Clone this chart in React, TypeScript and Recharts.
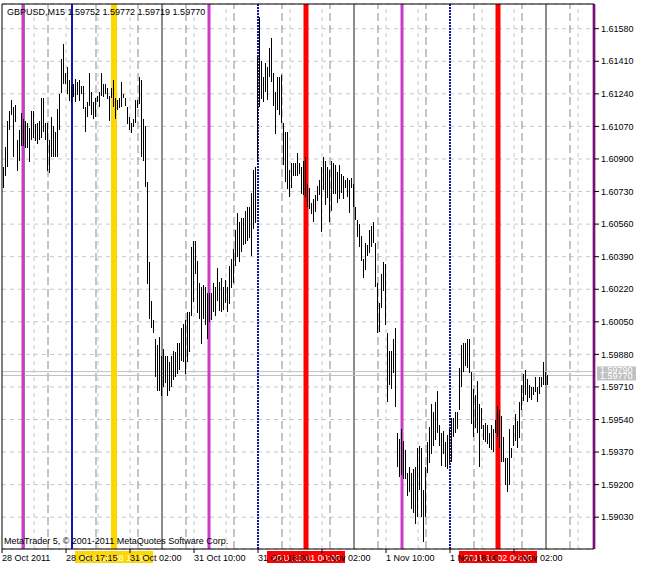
import React from 'react';
import { ComposedChart, Bar, XAxis, YAxis, CartesianGrid, ReferenceLine } from 'recharts';

const FONT = '"Liberation Sans", Arial, sans-serif';

// M15 bars (high / low per bar)
const HIGHS = [
  1.6086, 1.6096, 1.6110, 1.6115, 1.6121, 1.6117, 1.6118, 1.6100, 1.6105, 1.6114,
  1.6111, 1.6110, 1.6109, 1.6106, 1.6115, 1.6115, 1.6108, 1.6109, 1.6110, 1.6122,
  1.6122, 1.6109, 1.6109, 1.6100, 1.6112, 1.6107, 1.6104, 1.6116, 1.6124, 1.6142,
  1.6150, 1.6135, 1.6138, 1.6131, 1.6128, 1.6129, 1.6132, 1.6130, 1.6131, 1.6128,
  1.6128, 1.6117, 1.6120, 1.6135, 1.6125, 1.6120, 1.6122, 1.6123, 1.6125, 1.6135,
  1.6129, 1.6129, 1.6127, 1.6123, 1.6127, 1.6131, 1.6122, 1.6121, 1.6122, 1.6130,
  1.6124, 1.6122, 1.6117, 1.6112, 1.6109, 1.6111, 1.6121, 1.6121, 1.6133, 1.6131,
  1.6111, 1.6107, 1.6078, 1.6036, 1.6016, 1.6006, 1.5996, 1.5993, 1.5997, 1.5987,
  1.5991, 1.5987, 1.5987, 1.5984, 1.5987, 1.5990, 1.5989, 1.5994, 1.5994, 1.6002,
  1.6004, 1.6006, 1.6010, 1.6010, 1.6044, 1.6047, 1.6047, 1.6037, 1.6025, 1.6023,
  1.6024, 1.6023, 1.6020, 1.6020, 1.6020, 1.6025, 1.6023, 1.6033, 1.6026, 1.6028,
  1.6023, 1.6027, 1.6023, 1.6034, 1.6038, 1.6043, 1.6053, 1.6062, 1.6057, 1.6059,
  1.6059, 1.6063, 1.6065, 1.6065, 1.6072, 1.6084, 1.6086, 1.6143, 1.6164, 1.6141,
  1.6133, 1.6140, 1.6138, 1.6148, 1.6153, 1.6135, 1.6125, 1.6133, 1.6133, 1.6134,
  1.6109, 1.6104, 1.6104, 1.6084, 1.6088, 1.6088, 1.6088, 1.6093, 1.6088, 1.6086,
  1.6089, 1.6091, 1.6077, 1.6075, 1.6067, 1.6069, 1.6071, 1.6076, 1.6079, 1.6086,
  1.6091, 1.6089, 1.6086, 1.6084, 1.6089, 1.6088, 1.6087, 1.6083, 1.6087, 1.6082,
  1.6081, 1.6079, 1.6080, 1.6079, 1.6080, 1.6077, 1.6065, 1.6058, 1.6056, 1.6050,
  1.6038, 1.6046, 1.6045, 1.6053, 1.6055, 1.6057, 1.6046, 1.6025, 1.6015, 1.6030,
  1.6036, 1.6035, 1.5999, 1.5990, 1.5990, 1.5996, 1.6002, 1.5947, 1.5944, 1.5949,
  1.5943, 1.5938, 1.5926, 1.5929, 1.5926, 1.5928, 1.5929, 1.5939, 1.5940, 1.5939,
  1.5917, 1.5929, 1.5942, 1.5950, 1.5962, 1.5958, 1.5963, 1.5969, 1.5951, 1.5947,
  1.5948, 1.5942, 1.5946, 1.5949, 1.5955, 1.5955, 1.5958, 1.5958, 1.5981, 1.5993,
  1.5994, 1.5994, 1.5996, 1.5996, 1.5979, 1.5970, 1.5967, 1.5974, 1.5962, 1.5960,
  1.5951, 1.5952, 1.5951, 1.5947, 1.5951, 1.5949, 1.5954, 1.5961, 1.5959, 1.5956,
  1.5945, 1.5934, 1.5934, 1.5949, 1.5939, 1.5951, 1.5957, 1.5953, 1.5963, 1.5972,
  1.5978, 1.5980, 1.5975, 1.5972, 1.5971, 1.5971, 1.5976, 1.5971, 1.5976, 1.5976,
  1.5984, 1.5979, 1.5977,
];

const LOWS = [
  1.6075, 1.6081, 1.6086, 1.6105, 1.6113, 1.6091, 1.6109, 1.6084, 1.6089, 1.6097,
  1.6097, 1.6096, 1.6096, 1.6088, 1.6100, 1.6101, 1.6099, 1.6098, 1.6100, 1.6101,
  1.6104, 1.6100, 1.6084, 1.6083, 1.6091, 1.6091, 1.6091, 1.6091, 1.6105, 1.6124,
  1.6129, 1.6129, 1.6124, 1.6120, 1.6119, 1.6122, 1.6120, 1.6123, 1.6120, 1.6124,
  1.6116, 1.6104, 1.6112, 1.6118, 1.6113, 1.6111, 1.6112, 1.6120, 1.6117, 1.6123,
  1.6122, 1.6124, 1.6121, 1.6110, 1.6122, 1.6117, 1.6111, 1.6116, 1.6117, 1.6117,
  1.6122, 1.6118, 1.6108, 1.6105, 1.6104, 1.6107, 1.6109, 1.6117, 1.6119, 1.6091,
  1.6089, 1.6075, 1.6025, 1.6006, 1.6002, 1.5999, 1.5976, 1.5969, 1.5969, 1.5966,
  1.5971, 1.5973, 1.5966, 1.5969, 1.5971, 1.5975, 1.5976, 1.5978, 1.5980, 1.5985,
  1.5984, 1.5978, 1.5984, 1.5989, 1.6008, 1.6015, 1.6030, 1.6010, 1.6006, 1.5993,
  1.6006, 1.6003, 1.5996, 1.6005, 1.6006, 1.6010, 1.6008, 1.6016, 1.6011, 1.6010,
  1.6011, 1.6015, 1.6010, 1.6014, 1.6023, 1.6025, 1.6034, 1.6039, 1.6036, 1.6041,
  1.6045, 1.6046, 1.6047, 1.6049, 1.6039, 1.6053, 1.6057, 1.6088, 1.6117, 1.6121,
  1.6120, 1.6125, 1.6121, 1.6133, 1.6130, 1.6118, 1.6103, 1.6116, 1.6113, 1.6109,
  1.6087, 1.6078, 1.6074, 1.6070, 1.6075, 1.6081, 1.6081, 1.6081, 1.6082, 1.6072,
  1.6071, 1.6070, 1.6065, 1.6064, 1.6061, 1.6057, 1.6062, 1.6068, 1.6071, 1.6052,
  1.6074, 1.6066, 1.6070, 1.6057, 1.6063, 1.6072, 1.6072, 1.6067, 1.6069, 1.6072,
  1.6069, 1.6075, 1.6070, 1.6062, 1.6075, 1.6065, 1.6058, 1.6049, 1.6044, 1.6037,
  1.6028, 1.6032, 1.6039, 1.6041, 1.6044, 1.6046, 1.6023, 1.5999, 1.6000, 1.6012,
  1.6021, 1.6003, 1.5963, 1.5972, 1.5970, 1.5978, 1.5961, 1.5929, 1.5924, 1.5925,
  1.5923, 1.5923, 1.5914, 1.5916, 1.5907, 1.5905, 1.5899, 1.5903, 1.5917, 1.5903,
  1.5890, 1.5903, 1.5926, 1.5931, 1.5936, 1.5940, 1.5943, 1.5947, 1.5940, 1.5930,
  1.5936, 1.5929, 1.5928, 1.5931, 1.5932, 1.5945, 1.5947, 1.5949, 1.5959, 1.5971,
  1.5979, 1.5982, 1.5981, 1.5978, 1.5952, 1.5945, 1.5950, 1.5947, 1.5929, 1.5949,
  1.5943, 1.5942, 1.5941, 1.5939, 1.5938, 1.5937, 1.5947, 1.5945, 1.5939, 1.5932,
  1.5932, 1.5920, 1.5916, 1.5920, 1.5934, 1.5940, 1.5943, 1.5939, 1.5944, 1.5959,
  1.5964, 1.5967, 1.5963, 1.5965, 1.5964, 1.5967, 1.5968, 1.5963, 1.5967, 1.5971,
  1.5972, 1.5972, 1.5972,
];

const PRICE_TICKS = [
  1.5903, 1.592, 1.5937, 1.5954, 1.5971, 1.5988, 1.6005, 1.6022,
  1.6039, 1.6056, 1.6073, 1.609, 1.6107, 1.6124, 1.6141, 1.6158,
];
const TIME_TICKS = [0, 32, 64, 96, 128, 160, 192, 224, 256];
const TIME_LABELS = [
  '28 Oct 2011', '28 Oct 17:15', '31 Oct 02:00', '31 Oct 10:00', '31 Oct 18:00',
  '1 Nov 02:00', '1 Nov 10:00', '1 Nov 18:00', '2 Nov 02:00',
];

// vertical objects on the chart, in bar positions
const GRID_LIGHT = [16, 32, 48, 64, 80, 96, 112, 128, 144, 160, 176, 192, 208, 224, 240, 256, 272, 288];
const GRID_DARK = [23, 47, 68, 92, 116, 140, 164, 188, 212, 236, 260, 284];
const DAY_SEP = [11, 80, 176, 272];
const MAGENTA_LINES = [10.5, 103.5, 200, 296];
const BLUE_SOLID = [35];
const BLUE_DASHED = [128, 224];
const YELLOW_LINES = [{ at: 56, text: '2011.10.28 17:15' }];
const RED_LINES = [
  { at: 152, text: '2011.11.01 00:00' },
  { at: 248, text: '2011.11.02 00:00' },
];

const BID = 1.5977;
const ASK = 1.5979;
const Y_DOMAIN = [1.58864, 1.61709];

const data = HIGHS.map((h, i) => ({ t: i + 1, range: [LOWS[i], h] }));

const OhlcShape = (props: any) => {
  const { x, y, width, height } = props;
  if (x == null || y == null) return null;
  const cx = Math.floor(x + width / 2);
  const top = Math.min(y, y + height);
  const h = Math.max(1, Math.abs(height));
  return <rect x={cx} y={Math.round(top)} width={1} height={Math.round(h)} fill="#000" />;
};

const TimeTick = (props: any) => {
  const { x, y, payload } = props;
  const idx = TIME_TICKS.indexOf(payload.value);
  return (
    <text x={x} y={y + 6} fontSize={9} fontFamily={FONT} fill="#000" textAnchor="start">
      {TIME_LABELS[idx]}
    </text>
  );
};

const TimeBox = (props: any) => {
  const { viewBox, fill, text, color } = props;
  if (!viewBox) return null;
  const cx = viewBox.x;
  const y = viewBox.y + viewBox.height + 2;
  return (
    <g>
      <rect x={cx - 39} y={y} width={78} height={12} fill={fill} />
      <text x={cx} y={y + 10} fontSize={9} fontFamily={FONT} fill={color} textAnchor="middle">
        {text}
      </text>
    </g>
  );
};

const PriceBox = (props: any) => {
  const { viewBox } = props;
  if (!viewBox) return null;
  const x = viewBox.x + viewBox.width + 3;
  const y = viewBox.y;
  return (
    <g>
      <rect x={x} y={y - 9} width={39} height={14} fill="#c0c0c0" />
      <text x={x + 3} y={y - 2} fontSize={9} fontFamily={FONT} fill="#fff">1.59790</text>
      <text x={x + 3} y={y + 4} fontSize={9} fontFamily={FONT} fill="#fff">1.59770</text>
    </g>
  );
};

export default function App() {
  return (
    <div style={{ position: 'absolute', left: 0, top: 0, width: 647, height: 569, background: '#fff' }}>
      <ComposedChart
        width={647}
        height={569}
        data={data}
        margin={{ top: 4, right: 0, left: 2, bottom: 0 }}
      >
        <CartesianGrid vertical={false} stroke="#c8c8c8" strokeDasharray="4 4" />
        <XAxis
          dataKey="t"
          type="number"
          domain={[0, 296]}
          ticks={TIME_TICKS}
          interval={0}
          allowDataOverflow
          height={20}
          tickSize={4}
          tickMargin={2}
          tick={<TimeTick />}
          stroke="#000"
        />
        <YAxis
          orientation="right"
          type="number"
          domain={Y_DOMAIN}
          ticks={PRICE_TICKS}
          interval={0}
          allowDataOverflow
          width={53}
          tickSize={5}
          tickMargin={2}
          tickFormatter={(v: number) => v.toFixed(5)}
          tick={{ fontSize: 9, fontFamily: FONT, fill: '#000', textAnchor: 'start' }}
          stroke="#000"
        />
        {GRID_LIGHT.map((v) => (
          <ReferenceLine key={'gl' + v} x={v} stroke="#c8c8c8" strokeDasharray="4 4" zIndex={10} />
        ))}
        {GRID_DARK.map((v) => (
          <ReferenceLine key={'gd' + v} x={v} stroke="#8a8a8a" strokeDasharray="8 4" zIndex={10} />
        ))}
        {DAY_SEP.map((v) => (
          <ReferenceLine key={'ds' + v} x={v} stroke="#8c8c8c" strokeWidth={2} zIndex={10} />
        ))}
        <ReferenceLine y={ASK} stroke="#c0c0c0" zIndex={20} />
        <ReferenceLine y={BID} stroke="#c0c0c0" zIndex={20} label={<PriceBox />} />
        {MAGENTA_LINES.map((v) => (
          <ReferenceLine key={'m' + v} x={v} stroke="#c83cc8" strokeWidth={3} zIndex={30} />
        ))}
        {BLUE_SOLID.map((v) => (
          <ReferenceLine key={'bs' + v} x={v} stroke="#1414b4" strokeWidth={2} zIndex={30} />
        ))}
        {BLUE_DASHED.map((v) => (
          <ReferenceLine key={'bd' + v} x={v} stroke="#1414a0" strokeWidth={2} strokeDasharray="2 1" zIndex={30} />
        ))}
        {YELLOW_LINES.map((l) => (
          <ReferenceLine
            key={'y' + l.at}
            x={l.at}
            stroke="#ffd700"
            strokeWidth={6}
            zIndex={30}
            label={<TimeBox fill="#ffd700" text={l.text} color="#fff" />}
          />
        ))}
        {RED_LINES.map((l) => (
          <ReferenceLine
            key={'r' + l.at}
            x={l.at}
            stroke="#ff0000"
            strokeWidth={5}
            zIndex={30}
            label={<TimeBox fill="#ff0000" text={l.text} color="#fff" />}
          />
        ))}
        <ReferenceLine x={0} stroke="#000" />
        <ReferenceLine y={Y_DOMAIN[1]} stroke="#000" />
        <Bar dataKey="range" barSize={1} shape={<OhlcShape />} isAnimationActive={false} zIndex={450} />
      </ComposedChart>
      <svg
        width={647}
        height={569}
        style={{ position: 'absolute', left: 0, top: 0, pointerEvents: 'none' }}
      >
        <text x={7} y={15} fontSize={9} fontFamily={FONT} fill="#000">
          GBPUSD,M15  1.59752 1.59772 1.59719 1.59770
        </text>
        <text x={4} y={544} fontSize={9} fontFamily={FONT} fill="#000">
          MetaTrader 5, © 2001-2011 MetaQuotes Software Corp.
        </text>
      </svg>
    </div>
  );
}
